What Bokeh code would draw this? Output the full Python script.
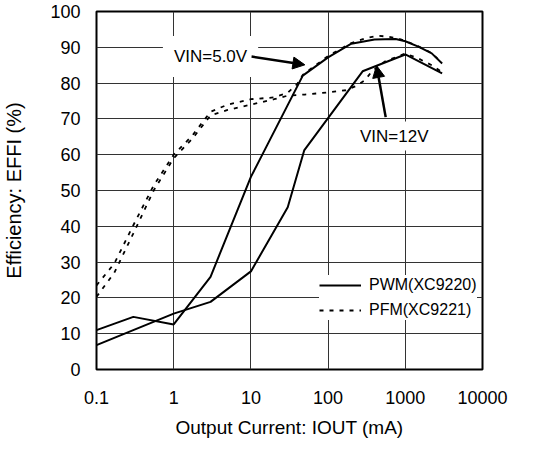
from bokeh.plotting import figure
from bokeh.models import (FixedTicker, CustomJSTickFormatter, Label, Arrow, NormalHead,
                          Legend, LegendItem, Range1d)
from bokeh.embed import file_html
from bokeh.resources import INLINE

# ---------------- data ----------------
x_ticks = [0.1, 1, 10, 100, 1000, 10000]
y_ticks = [0, 10, 20, 30, 40, 50, 60, 70, 80, 90, 100]
x_min, x_max = 0.1, 10000
y_min, y_max = 0, 100

# PWM (XC9220), VIN = 5.0V
pwm_5v_x = [0.1, 0.3, 1, 3, 10, 47, 100, 200, 400, 750, 1000, 1500, 2200, 3000]
pwm_5v_y = [11.0, 14.7, 12.6, 25.9, 53.8, 82.1, 87.2, 91.0, 92.2, 92.3, 91.7, 90.1, 88.3, 85.5]

# PWM (XC9220), VIN = 12V
pwm_12v_x = [0.1, 1, 3, 10, 30, 49, 280, 1000, 3000]
pwm_12v_y = [6.8, 15.6, 18.9, 27.4, 45.3, 61.2, 83.3, 88.0, 82.7]

# PFM (XC9221), VIN = 5.0V
pfm_5v_x = [0.1, 0.17, 0.3, 0.55, 1, 1.75, 3, 5, 10, 20, 30, 40, 47, 100, 200, 313, 440, 600, 820, 1000, 1500, 2200, 3000]
pfm_5v_y = [23.5, 29.6, 40.3, 51.4, 60.0, 65.4, 72.0, 74.0, 75.5, 76.0, 77.3, 79.8, 82.3, 87.6, 91.2, 92.6, 93.2, 93.0, 92.4, 91.8, 90.2, 88.4, 85.6]

# PFM (XC9221), VIN = 12V
pfm_12v_x = [0.1, 0.17, 0.3, 0.55, 1, 1.75, 3, 5, 10, 20, 30, 50, 100, 170, 230, 300, 370, 540, 1000, 1500, 2200, 3000]
pfm_12v_y = [20.3, 27.0, 38.0, 50.0, 59.0, 64.5, 71.0, 72.5, 74.0, 75.5, 76.5, 76.8, 77.4, 78.0, 79.2, 80.8, 83.3, 86.0, 88.3, 86.8, 85.0, 83.0]

series_names = ["PWM(XC9220)", "PFM(XC9221)"]

# annotations
vin5_text, vin5_pos = "VIN=5.0V", (3.0, 87.4)
vin5_arrow = (10.2, 87.4, 50, 85.1)
vin12_text, vin12_pos = "VIN=12V", (720, 65.2)
vin12_arrow = (557, 70.5, 424, 84.9)
vout_text, vout_pos = "VOUT=3.3V", (44000, 99.4)

FONT = "Liberation Sans"

p = figure(width=535, height=441, x_axis_type="log",
           x_range=Range1d(x_min, x_max), y_range=Range1d(y_min, y_max),
           output_backend="svg", toolbar_location=None,
           min_border_left=86, min_border_right=53, min_border_top=11, min_border_bottom=72)

p.outline_line_color = "black"
p.outline_line_width = 2

p.xaxis.ticker = FixedTicker(ticks=x_ticks, minor_ticks=[])
p.yaxis.ticker = FixedTicker(ticks=y_ticks, minor_ticks=[])
p.xaxis.formatter = CustomJSTickFormatter(code="return tick.toString();")

for ax in (p.xaxis[0], p.yaxis[0]):
    ax.axis_line_color = None
    ax.major_tick_line_color = None
    ax.minor_tick_line_color = None
    ax.major_label_text_font = FONT
    ax.major_label_text_font_size = "18px"
    ax.major_label_text_color = "black"
    ax.axis_label_text_font = FONT
    ax.axis_label_text_font_style = "normal"
    ax.axis_label_text_color = "black"

p.xaxis.axis_label = "Output Current: IOUT (mA)"
p.yaxis.axis_label = "Efficiency: EFFI (%)"
p.xaxis.axis_label_text_font_size = "19px"
p.yaxis.axis_label_text_font_size = "20px"
p.xaxis.major_label_standoff = 15
p.yaxis.major_label_standoff = 10
p.xaxis.axis_label_standoff = 10
p.yaxis.axis_label_standoff = 22

for g in (p.xgrid[0], p.ygrid[0]):
    g.grid_line_color = "#333333"
    g.grid_line_width = 1
    g.grid_line_alpha = 1.0

r_pwm5 = p.line(pwm_5v_x, pwm_5v_y, line_color="black", line_width=2)
r_pwm12 = p.line(pwm_12v_x, pwm_12v_y, line_color="black", line_width=2)
r_pfm5 = p.line(pfm_5v_x, pfm_5v_y, line_color="black", line_width=1.8, line_dash="4 6")
r_pfm12 = p.line(pfm_12v_x, pfm_12v_y, line_color="black", line_width=1.8, line_dash="4 6")

lab5 = Label(x=vin5_pos[0], y=vin5_pos[1], text=vin5_text, text_align="center",
             text_baseline="middle", text_font=FONT, text_font_size="17px",
             text_color="black", background_fill_color="white", padding=11)
lab12 = Label(x=vin12_pos[0], y=vin12_pos[1], text=vin12_text, text_align="center",
              text_baseline="middle", text_font=FONT, text_font_size="17px",
              text_color="black", background_fill_color="white", padding=5)
labv = Label(x=vout_pos[0], y=vout_pos[1], text=vout_text, text_align="right",
             text_baseline="bottom", text_font=FONT, text_font_size="13px",
             text_color="black")
p.add_layout(lab5)
p.add_layout(lab12)
p.add_layout(labv)

for (xs, ys, xe, ye) in (vin5_arrow, vin12_arrow):
    p.add_layout(Arrow(x_start=xs, y_start=ys, x_end=xe, y_end=ye,
                       line_color="black", line_width=2.5,
                       end=NormalHead(size=12, fill_color="black", line_color="black", line_width=1)))

legend = Legend(items=[LegendItem(label=series_names[0], renderers=[r_pwm5]),
                       LegendItem(label=series_names[1], renderers=[r_pfm5])],
                location=(223, 49), border_line_color=None,
                background_fill_color="white", background_fill_alpha=1.0,
                label_text_font=FONT, label_text_font_size="16px", label_text_color="black",
                glyph_width=42, glyph_height=20, spacing=5, padding=4, margin=0,
                label_standoff=8)
p.add_layout(legend)

open("out.html", "w").write(file_html(p, INLINE))
